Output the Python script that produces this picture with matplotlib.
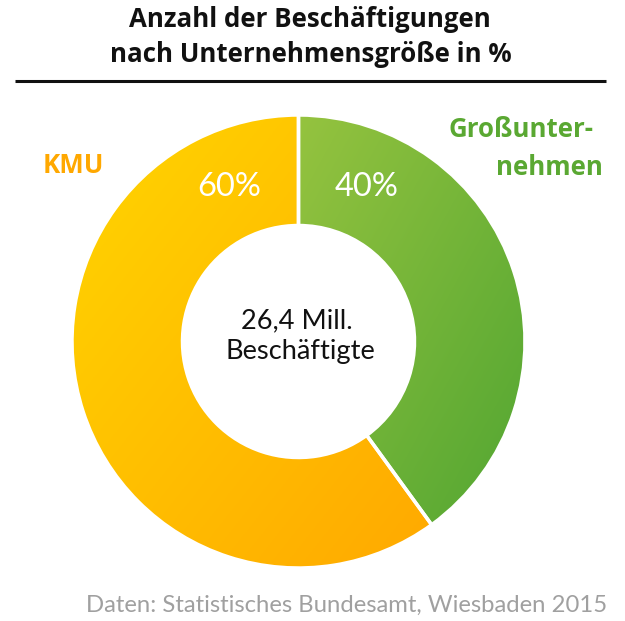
import numpy as np
import matplotlib
matplotlib.use("Agg")
import matplotlib.pyplot as plt
from matplotlib.colors import LinearSegmentedColormap

# Data
categories = ["KMU", "Großunternehmen"]
category_lines = [["KMU"], ["Großunter-", "nehmen"]]
shares = [60, 40]
total_lines = ["26,4 Mill.", "Beschäftigte"]
title_lines = ["Anzahl der Beschäftigungen", "nach Unternehmensgröße in %"]
source = "Daten: Statistisches Bundesamt, Wiesbaden 2015"

W, H = 625, 621
fig = plt.figure(figsize=(W / 100, H / 100), dpi=100)
ax = fig.add_axes([0, 0, 1, 1])

def Y(y):
    return H - y

cx, cy, R, r = 298.5, Y(341.5), 226.5, 116.0

# green (40 %) first from 12 o'clock clockwise, then KMU
vals = [shares[1], shares[0]]
wedges, _ = ax.pie(vals, startangle=90, counterclock=False, radius=R,
                   center=(cx, cy), frame=False,
                   wedgeprops=dict(width=R - r, edgecolor="white", linewidth=2.5))
ax.set_xlim(0, W)
ax.set_ylim(0, H)
ax.set_aspect("equal")
ax.axis("off")

grads = [("#95c33f", "#52a632"), ("#ffd500", "#ffa900")]
for w, (c1, c2) in zip(wedges, grads):
    w.set_facecolor("none")
    cmap = LinearSegmentedColormap.from_list("g", [c1, c2])
    bb = w.get_path().get_extents(w.get_patch_transform())
    gx = np.linspace(0, 1, 200)
    X, Yg = np.meshgrid(gx, gx)
    G = (X + (1 - Yg)) / 2
    im = ax.imshow(G, cmap=cmap, extent=(bb.x0, bb.x1, bb.y0, bb.y1),
                   origin="lower", aspect="auto", zorder=1, vmin=0, vmax=1)
    im.set_clip_path(w)
    w.set_zorder(2)

ax.set_xlim(0, W)
ax.set_ylim(0, H)

fam_b = ["Open Sans", "DejaVu Sans"]
fam_r = ["Lato", "DejaVu Sans"]
fig.canvas.draw()
renderer = fig.canvas.get_renderer()

def fit_size(s, width, fam, **kw):
    t = ax.text(0, 0, s, family=fam, fontsize=20, **kw)
    wpx = t.get_window_extent(renderer).width
    t.remove()
    return 20 * width / wpx

def put(x, y, s, size, fam, ha="center", **kw):
    return ax.text(x, Y(y), s, ha=ha, va="baseline", family=fam, fontsize=size, **kw)

# title
fs_title = fit_size(title_lines[1], 402, fam_b, fontweight="bold")
put(310, 27, title_lines[0], fs_title, fam_b, fontweight="bold", color="#111111")
put(311, 62, title_lines[1], fs_title, fam_b, fontweight="bold", color="#111111")
ax.plot([15, 606], [Y(80.5), Y(80.5)], color="#111111", lw=2.2, solid_capstyle="butt")

# category labels
fs_lab = fit_size(category_lines[1][0], 145, fam_b, fontweight="bold")
put(43, 173, category_lines[0][0], fs_lab, fam_b, ha="left", fontweight="bold", color="#ffa800")
put(594, 137, category_lines[1][0], fs_lab, fam_b, ha="right", fontweight="bold", color="#5aa832")
put(603, 175, category_lines[1][1], fs_lab, fam_b, ha="right", fontweight="bold", color="#5aa832")

# percentages
fs_pct = fit_size("60%", 64, fam_r)
put(229, 196, f"{shares[0]}%", fs_pct, fam_r, color="white", zorder=5)
put(366.5, 196, f"{shares[1]}%", fs_pct, fam_r, color="white", zorder=5)

# centre text
fs_c = fit_size(total_lines[1], 150, fam_r)
put(297, 328, total_lines[0], fs_c, fam_r, color="#111111")
put(300, 359, total_lines[1], fs_c, fam_r, color="#111111")

# source
fs_s = fit_size(source, 524, fam_r)
put(607, 612, source, fs_s, fam_r, ha="right", color="#a0a0a0")

fig.savefig("out.png", dpi=100)
